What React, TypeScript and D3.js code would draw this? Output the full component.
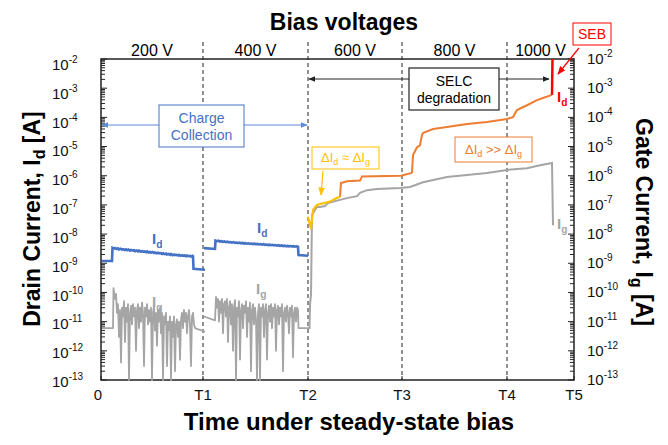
import * as d3 from "d3";

// time axis in arbitrary units (T5 = end of test)
const timeTicks = [0, 102, 207, 301, 406, 473];
const timeLabels = ["0", "T1", "T2", "T3", "T4", "T5"];
const stepTimes = [102, 207, 301, 406];
const voltageLabels = ["200 V", "400 V", "600 V", "800 V", "1000 V"];
const decades = [-2, -3, -4, -5, -6, -7, -8, -9, -10, -11, -12, -13];

// drain current, 200 V step
const idSeg1: [number, number][] = [
  [1, 1.2e-9], [11, 1.2e-9], [11.5, 3.4e-9], [13, 3.2e-9], [14, 3.35e-9], [15.5, 3.1e-9], [17, 3.25e-9],
  [18, 3.0e-9], [19.5, 3.15e-9], [21, 2.95e-9], [22, 3.05e-9], [23.5, 2.85e-9], [25, 3.0e-9], [26, 2.8e-9],
  [27.5, 2.95e-9], [29, 2.7e-9], [30, 2.85e-9], [31.5, 2.75e-9], [33, 2.8e-9], [34, 2.6e-9], [35.5, 2.75e-9],
  [37, 2.55e-9], [38, 2.7e-9], [39.5, 2.5e-9], [41, 2.6e-9], [42, 2.5e-9], [43.5, 2.55e-9], [45, 2.4e-9],
  [46, 2.55e-9], [47.5, 2.35e-9], [49, 2.45e-9], [50, 2.3e-9], [51.5, 2.45e-9], [53, 2.25e-9], [54, 2.35e-9],
  [55.5, 2.2e-9], [57, 2.3e-9], [58, 2.2e-9], [59.5, 2.25e-9], [61, 2.1e-9], [62, 2.2e-9], [63.5, 2.05e-9],
  [65, 2.15e-9], [66, 2.0e-9], [67.5, 2.1e-9], [69, 1.95e-9], [70, 2.1e-9], [71.5, 1.9e-9], [73, 2.0e-9],
  [74, 1.9e-9], [75.5, 1.95e-9], [77, 1.85e-9], [78, 1.95e-9], [79.5, 1.8e-9], [81, 1.9e-9], [82, 1.8e-9],
  [83.5, 1.85e-9], [85, 1.75e-9], [86, 1.85e-9], [87.5, 1.75e-9], [89, 1.8e-9], [90, 1.7e-9], [91.5, 1.8e-9],
  [92, 1.75e-9], [92.5, 6.5e-10], [104, 6.0e-10],
];

// drain current, 400 V step
const idSeg2: [number, number][] = [
  [103, 3.3e-9], [114, 3.1e-9], [114.5, 6.0e-9], [116, 5.7e-9], [117.5, 5.9e-9], [119, 5.5e-9],
  [120.5, 5.7e-9], [122, 5.4e-9], [123.5, 5.6e-9], [125, 5.3e-9], [126.5, 5.5e-9], [128, 5.2e-9],
  [129.5, 5.35e-9], [131, 5.1e-9], [132.5, 5.3e-9], [134, 5.0e-9], [135.5, 5.15e-9], [137, 4.9e-9],
  [138.5, 5.1e-9], [140, 4.85e-9], [141.5, 5.0e-9], [143, 4.75e-9], [144.5, 4.9e-9], [146, 4.7e-9],
  [147.5, 4.85e-9], [149, 4.6e-9], [150.5, 4.75e-9], [152, 4.55e-9], [153.5, 4.7e-9], [155, 4.5e-9],
  [156.5, 4.6e-9], [158, 4.4e-9], [159.5, 4.55e-9], [161, 4.35e-9], [162.5, 4.5e-9], [164, 4.3e-9],
  [165.5, 4.4e-9], [167, 4.2e-9], [168.5, 4.35e-9], [170, 4.15e-9], [171.5, 4.3e-9], [173, 4.1e-9],
  [174.5, 4.2e-9], [176, 4.0e-9], [177.5, 4.15e-9], [179, 3.95e-9], [180.5, 4.1e-9], [182, 3.9e-9],
  [183.5, 4.0e-9], [185, 3.85e-9], [186.5, 3.95e-9], [188, 3.8e-9], [189.5, 3.9e-9], [191, 3.75e-9],
  [192.5, 3.85e-9], [194, 3.7e-9], [195.5, 3.8e-9], [197, 3.7e-9], [197.5, 1.9e-9], [207, 1.8e-9],
];

// gate current, 200 V step
const igSeg1: [number, number][] = [
  [1, 6e-12], [12, 6e-12], [12.5, 1.4e-10], [14, 6e-11], [15, 9e-11], [16, 2e-11], [17, 4e-11],
  [18, 3e-12], [19, 2.5e-11], [20, 4e-13], [21, 3e-11], [22, 1.5e-11], [23, 5e-11], [24, 2e-12],
  [25, 3e-11], [26, 1e-11], [27, 4e-11], [28, 1e-13], [29, 2e-11], [30, 3.5e-11], [31, 8e-12],
  [32, 4e-11], [33, 1.5e-11], [34, 3e-11], [35, 1e-12], [36, 2.5e-11], [37, 4e-11], [38, 6e-12],
  [39, 3e-11], [40, 1e-11], [41, 4.5e-11], [42, 2e-11], [43, 3e-13], [44, 3e-11], [45, 1.5e-11],
  [46, 4e-11], [47, 8e-12], [48, 2.5e-11], [49, 1e-11], [50, 3e-11], [51, 1e-13], [52, 2e-11],
  [53, 3.5e-11], [54, 5e-12], [55, 2e-11], [56, 1.5e-12], [57, 2.5e-11], [58, 1e-11], [59, 3e-11],
  [60, 4e-12], [61, 2e-11], [62, 1e-13], [63, 1.5e-11], [64, 8e-12], [65, 2e-11], [66, 3e-13],
  [67, 1e-11], [68, 5e-12], [69, 1.5e-11], [70, 1e-13], [71, 1e-11], [72, 3e-12], [73, 1.5e-11],
  [74, 2e-13], [75, 8e-12], [76, 1.2e-11], [77, 3e-12], [78, 1e-11], [79, 5e-13], [80, 1.2e-11],
  [81, 2e-11], [82, 6e-12], [83, 2.5e-11], [84, 1e-11], [85, 2e-11], [86, 4e-12], [87, 1.5e-11],
  [88, 2.5e-11], [89, 8e-12], [90, 3e-13], [91, 1.5e-11], [92, 2e-11], [93, 8e-12], [94, 6e-12],
  [104, 4.5e-12],
];

// gate current, 400 V step
const igSeg2: [number, number][] = [
  [103, 1.5e-11], [114, 1.1e-11], [115, 7e-11], [116, 3e-11], [117, 6e-11], [118, 1e-11], [119, 5e-11],
  [120, 2e-11], [121, 6e-11], [122, 4e-12], [123, 4e-11], [124, 5e-11], [125, 1.5e-11], [126, 6e-11],
  [127, 2e-12], [128, 3e-11], [129, 5e-11], [130, 8e-12], [131, 4e-11], [132, 1e-12], [133, 3e-11],
  [134, 5.5e-11], [135, 1e-13], [136, 3e-11], [137, 1.5e-11], [138, 5e-11], [139, 5e-13], [140, 2.5e-11],
  [141, 4e-11], [142, 6e-12], [143, 3.5e-11], [144, 2e-11], [145, 5e-11], [146, 3e-12], [147, 3e-11],
  [148, 1e-11], [149, 4.5e-11], [150, 2e-13], [151, 2.5e-11], [152, 4e-11], [153, 8e-12], [154, 3e-11],
  [155, 1.2e-11], [156, 1e-13], [157, 2e-11], [158, 4e-11], [159, 1e-13], [160, 3e-11], [161, 1.5e-11],
  [162, 4e-11], [163, 3e-12], [164, 2.5e-11], [165, 4e-11], [166, 5e-13], [167, 2e-11], [168, 3.5e-11],
  [169, 1e-11], [170, 4e-11], [171, 6e-12], [172, 3e-11], [173, 1.5e-11], [174, 4e-11], [175, 1e-12],
  [176, 2.5e-11], [177, 3.5e-11], [178, 8e-12], [179, 3e-11], [180, 1.5e-11], [181, 4e-11], [182, 2e-13],
  [183, 2e-11], [184, 3e-11], [185, 1e-11], [186, 3.5e-11], [187, 2e-11], [188, 4e-12], [189, 3e-11],
  [190, 1.5e-11], [191, 3.5e-11], [192, 6e-13], [193, 2e-11], [194, 3e-11], [195, 1e-11], [196, 3e-11],
  [197, 2.5e-11], [197.5, 6e-12], [207, 6e-12],
];

// gate current, 600 V .. 1000 V
const igStress: [number, number][] = [
  [207, 6e-12], [208.5, 6e-12], [209, 4e-11], [210, 8e-11], [211, 4.5e-8], [214, 6.7e-8], [216, 8.5e-8],
  [219, 8.5e-8], [224, 9.1e-8], [227, 1.17e-7], [239, 1.49e-7], [247, 1.74e-7], [256, 2.0e-7],
  [259, 2.6e-7], [266, 3.2e-7], [276, 3.5e-7], [299, 3.8e-7], [309, 4.1e-7], [322, 6.0e-7],
  [346, 9.1e-7], [366, 1.05e-6], [386, 1.23e-6], [406, 1.58e-6], [426, 1.8e-6], [439, 2.3e-6],
  [451, 2.75e-6], [452, 2.0e-8],
];

// drain current where dId ~ dIg
const idYellow: [number, number][] = [
  [207, 3.9e-8], [210, 1.5e-8], [212, 6.7e-8], [216, 1.0e-7], [219, 1.07e-7], [224, 1.17e-7],
  [229, 1.3e-7], [232, 1.49e-7], [236, 1.74e-7], [239, 1.88e-7],
];

// drain current where dId >> dIg
const idOrange: [number, number][] = [
  [239, 1.88e-7], [240, 5.6e-7], [246, 6.5e-7], [259, 6.8e-7], [261, 9.5e-7], [300, 1.0e-6],
  [310, 1.23e-6], [311, 1.3e-6], [312, 5.1e-6], [316, 9.5e-6], [319, 1.1e-5], [321, 2.5e-5],
  [322, 2.9e-5], [326, 3.3e-5], [332, 4.0e-5], [346, 4.7e-5], [366, 5.9e-5], [386, 6.9e-5],
  [406, 8.8e-5], [412, 1.02e-4], [416, 1.78e-4], [426, 2.6e-4], [436, 3.9e-4], [442, 4.6e-4],
  [451, 5.9e-4],
];

// single event burnout
const idRed: [number, number][] = [[451, 5.9e-4], [451.5, 1e-2]];

const BLUE = "#4472C4";
const GRAY = "#A5A5A5";
const ORANGE = "#ED7D31";
const YELLOW = "#FFC000";
const RED = "#FF0000";
const FONT = "'Liberation Sans', Arial, sans-serif";

function SubLabel({ x, y, main, sub, color, size = 15, bold = true }: any) {
  return (
    <text x={x} y={y} fill={color} fontSize={size} fontWeight={bold ? "bold" : "normal"}>
      {main}
      <tspan dy={4} fontSize={size * 0.68}>{sub}</tspan>
    </text>
  );
}

export default function App() {
  const W = 668, H = 445;
  const x = d3.scaleLinear().domain([0, 473]).range([101, 574]);
  const y = d3.scaleLog().domain([1e-13, 1e-2]).range([380, 59]).clamp(true);
  // left labels sit slightly lower than the ticks in the original
  const yLeftLabel = d3.scaleLog().domain([1e-13, 1e-2]).range([382, 65]);
  const line = d3.line<[number, number]>().x((d) => x(d[0])).y((d) => y(d[1]));

  const minor: number[] = [];
  for (let n = -13; n < -2; n++) for (let k = 1; k < 10; k++) minor.push(k * Math.pow(10, n));
  minor.push(1e-2);

  const bounds = [0, ...stepTimes, 473];
  const top = y.range()[1], bottom = y.range()[0];
  const left = x.range()[0], right = x.range()[1];

  return (
    <svg width={W} height={H} style={{ position: "absolute", left: 0, top: 0, fontFamily: FONT }}>
      <defs>
        {[["b", "#5B8AD8"], ["k", "#222"], ["r", RED], ["y", YELLOW]].map(([id, c]) => (
          <marker key={id} id={"ar" + id} viewBox="0 0 10 10" refX="9" refY="5" markerWidth="7" markerHeight="7" orient="auto-start-reverse">
            <path d="M0,1 L10,5 L0,9 Z" fill={c} />
          </marker>
        ))}
      </defs>
      <rect width={W} height={H} fill="#fff" />

      {/* titles */}
      <text x={344} y={30} textAnchor="middle" fontSize={23} fontWeight="bold">Bias voltages</text>
      {voltageLabels.map((v, i) => (
        <text key={v} x={(x(bounds[i]) + x(bounds[i + 1])) / 2} y={56} textAnchor="middle" fontSize={16}>{v}</text>
      ))}

      {/* step boundaries */}
      {stepTimes.map((t) => (
        <line key={t} x1={x(t)} x2={x(t)} y1={42} y2={bottom} stroke="#222" strokeWidth={1} strokeDasharray="4,3" />
      ))}

      {/* frame */}
      <path d={`M${left},${top} H${right} V${bottom} H${left} Z`} fill="none" stroke="#222" strokeWidth={1.5} />
      {minor.map((v, i) => {
        const major = Math.abs(Math.log10(v) - Math.round(Math.log10(v))) < 1e-6;
        const len = major ? 6 : 4;
        return (
          <g key={i}>
            <line x1={left} x2={left + len} y1={y(v)} y2={y(v)} stroke="#222" strokeWidth={1} />
            <line x1={right} x2={right - len} y1={y(v)} y2={y(v)} stroke="#222" strokeWidth={1} />
          </g>
        );
      })}
      {timeTicks.map((t) => (
        <line key={t} x1={x(t)} x2={x(t)} y1={bottom} y2={bottom - 4} stroke="#222" strokeWidth={1} />
      ))}

      {/* tick labels */}
      {decades.map((e) => (
        <text key={"l" + e} x={52} y={yLeftLabel(Math.pow(10, e)) + 5} fontSize={15} fill="#111">
          10<tspan dy={-7} fontSize={10}>{e}</tspan>
        </text>
      ))}
      {decades.map((e) => (
        <text key={"r" + e} x={587} y={y(Math.pow(10, e)) + 5} fontSize={15} fill="#111">
          10<tspan dy={-7} fontSize={10}>{e}</tspan>
        </text>
      ))}
      {timeTicks.map((t, i) => (
        <text key={t} x={i === 0 ? x(t) - 3 : x(t)} y={400} textAnchor="middle" fontSize={15} fill="#111">{timeLabels[i]}</text>
      ))}

      {/* axis titles */}
      <text x={349} y={430} textAnchor="middle" fontSize={24} fontWeight="bold">Time under steady-state bias</text>
      <text transform="translate(40,219) rotate(-90)" textAnchor="middle" fontSize={23} fontWeight="bold">
        Drain Current, I<tspan dy={5} fontSize={16}>d</tspan><tspan dy={-5}> [A]</tspan>
      </text>
      <text transform="translate(636,222) rotate(90)" textAnchor="middle" fontSize={23} fontWeight="bold">
        Gate Current, I<tspan dy={5} fontSize={16}>g</tspan><tspan dy={-5}> [A]</tspan>
      </text>

      {/* traces */}
      <path d={line(igSeg1) || ""} fill="none" stroke={GRAY} strokeWidth={1.8} strokeLinejoin="round" />
      <path d={line(igSeg2) || ""} fill="none" stroke={GRAY} strokeWidth={1.8} strokeLinejoin="round" />
      <path d={line(igStress) || ""} fill="none" stroke={GRAY} strokeWidth={2} />
      <path d={line(idSeg1) || ""} fill="none" stroke={BLUE} strokeWidth={2.6} />
      <path d={line(idSeg2) || ""} fill="none" stroke={BLUE} strokeWidth={2.6} />
      <path d={line(idOrange) || ""} fill="none" stroke={ORANGE} strokeWidth={2} />
      <path d={line(idYellow) || ""} fill="none" stroke={YELLOW} strokeWidth={2.2} />
      <path d={line(idRed) || ""} fill="none" stroke={RED} strokeWidth={2.5} />

      {/* trace labels */}
      <SubLabel x={152} y={244} main="I" sub="d" color={BLUE} />
      <SubLabel x={257} y={233} main="I" sub="d" color={BLUE} />
      <SubLabel x={152} y={307} main="I" sub="g" color={GRAY} />
      <SubLabel x={256} y={294} main="I" sub="g" color={GRAY} />
      <SubLabel x={557} y={102} main="I" sub="d" color={RED} />
      <SubLabel x={557} y={229} main="I" sub="g" color={GRAY} />

      {/* charge collection */}
      <line x1={left + 1} x2={x(207) - 1} y1={125} y2={125} stroke="#5B8AD8" strokeWidth={1} markerStart="url(#arb)" markerEnd="url(#arb)" />
      <rect x={159} y={105} width={85} height={42} fill="#fff" stroke={BLUE} strokeWidth={1} />
      <text x={201.5} y={123} textAnchor="middle" fontSize={14} fill={BLUE}>Charge</text>
      <text x={201.5} y={140} textAnchor="middle" fontSize={14} fill={BLUE}>Collection</text>

      {/* SELC degradation */}
      <line x1={x(207) + 1} x2={549} y1={79} y2={79} stroke="#222" strokeWidth={1} markerStart="url(#ark)" markerEnd="url(#ark)" />
      <rect x={409} y={68} width={90} height={42} fill="#fff" stroke="#222" strokeWidth={1.2} />
      <text x={454} y={86} textAnchor="middle" fontSize={14}>SELC</text>
      <text x={454} y={103} textAnchor="middle" fontSize={14}>degradation</text>

      {/* SEB */}
      <rect x={573} y={23} width={38} height={22} fill="#fff" stroke={RED} strokeWidth={1} />
      <text x={592} y={39} textAnchor="middle" fontSize={14} fill={RED}>SEB</text>
      <line x1={579} y1={48} x2={558} y2={74} stroke={RED} strokeWidth={1.2} markerEnd="url(#arr)" />

      {/* dId ~ dIg */}
      <rect x={312} y={147} width={67} height={22} fill="#fff" stroke={YELLOW} strokeWidth={1} />
      <text x={345.5} y={162} textAnchor="middle" fontSize={13} fill={YELLOW}>
        ΔI<tspan dy={3} fontSize={9}>d</tspan><tspan dy={-3}> ≈ ΔI</tspan><tspan dy={3} fontSize={9}>g</tspan>
      </text>
      <line x1={323} y1={171} x2={321} y2={195} stroke={YELLOW} strokeWidth={1.2} markerEnd="url(#ary)" />

      {/* dId >> dIg */}
      <rect x={455} y={137} width={77} height={25} fill="#fff" stroke={ORANGE} strokeWidth={1} />
      <text x={493.5} y={154} textAnchor="middle" fontSize={13} fill={ORANGE}>
        ΔI<tspan dy={3} fontSize={9}>d</tspan><tspan dy={-3}> &gt;&gt; ΔI</tspan><tspan dy={3} fontSize={9}>g</tspan>
      </text>
    </svg>
  );
}
